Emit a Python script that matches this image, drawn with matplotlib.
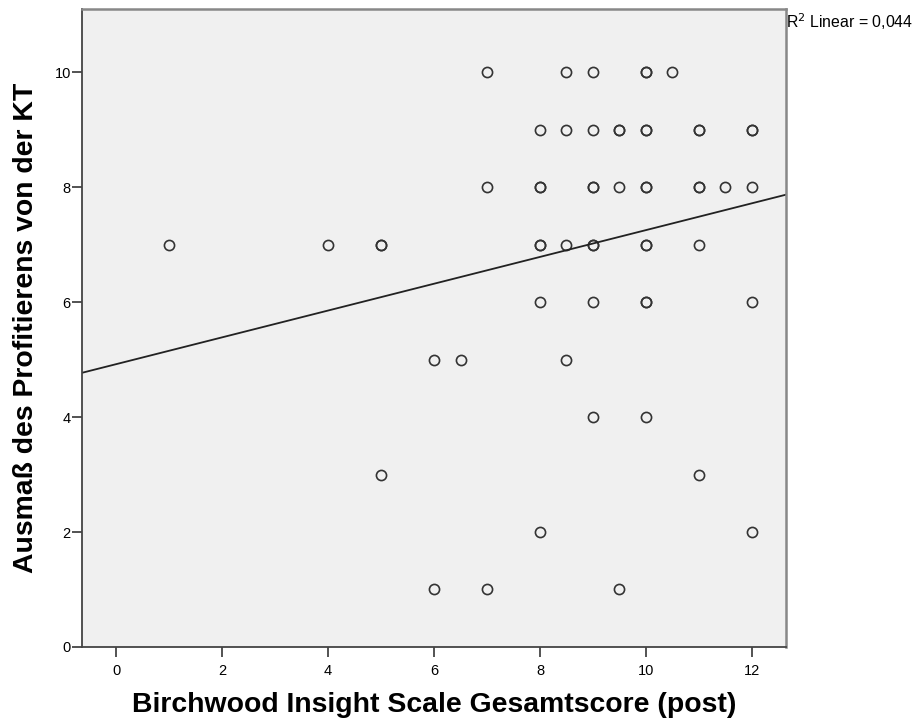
import matplotlib
matplotlib.use('Agg')
import matplotlib.pyplot as plt

plt.rcParams['font.family'] = ['Liberation Sans', 'DejaVu Sans']

# Birchwood Insight Scale (post) vs. Ausmass des Profitierens
# repeated pairs show up darker in the original, so they are listed twice
bis_score = [
    7, 8.5, 9, 10, 10, 10.5,
    8, 8.5, 9, 9.5, 9.5, 10, 10, 11, 11, 12, 12,
    7, 8, 8, 9, 9, 9.5, 10, 10, 11, 11, 11.5, 12,
    1, 4, 5, 5, 8, 8, 8.5, 9, 9, 10, 10, 11,
    8, 9, 10, 10, 12,
    6, 6.5, 8.5,
    9, 10,
    5, 11,
    8, 12,
    6, 7, 9.5,
]
profit = [
    10, 10, 10, 10, 10, 10,
    9, 9, 9, 9, 9, 9, 9, 9, 9, 9, 9,
    8, 8, 8, 8, 8, 8, 8, 8, 8, 8, 8, 8,
    7, 7, 7, 7, 7, 7, 7, 7, 7, 7, 7, 7,
    6, 6, 6, 6, 6,
    5, 5, 5,
    4, 4,
    3, 3,
    2, 2,
    1, 1, 1,
]

# fit line as shown in the chart (start and end of the visible segment)
fit_x = [-0.65, 12.65]
fit_y = [4.77, 7.87]
r2_text = 'R$^2$ Linear = 0,044'

fig = plt.figure(figsize=(9.15, 7.24), dpi=100)
ax = fig.add_axes([0.0896, 0.1064, 0.7696, 0.8812])
ax.set_facecolor('#f0f0f0')

ax.plot(bis_score, profit, 'o', markerfacecolor='none', markeredgecolor='#333333',
        markersize=7.3, markeredgewidth=1.2, linestyle='none')
ax.plot(fit_x, fit_y, color='#222222', linewidth=1.3)

ax.set_xlim(-0.65, 12.65)
ax.set_ylim(0, 11.1)
ax.set_xticks(range(0, 13, 2))
ax.set_yticks(range(0, 11, 2))
ax.tick_params(axis='both', direction='out', length=7, width=1.3, color='#444444',
               labelsize=10.5)
ax.tick_params(axis='y', pad=1)
ax.tick_params(axis='x', pad=5)

for side in ['left', 'bottom']:
    ax.spines[side].set_color('#444444')
    ax.spines[side].set_linewidth(1.3)
for side in ['top', 'right']:
    ax.spines[side].set_color('#888888')
    ax.spines[side].set_linewidth(1.8)

ax.set_xlabel('Birchwood Insight Scale Gesamtscore (post)', fontsize=20.4, fontweight='bold', labelpad=10)
ax.set_ylabel('Ausmaß des Profitierens von der KT', fontsize=20.4, fontweight='bold', labelpad=11)

fig.text(0.859, 0.970, r2_text, fontsize=11.4, ha='left', va='center')

fig.savefig('out.png', dpi=100)
